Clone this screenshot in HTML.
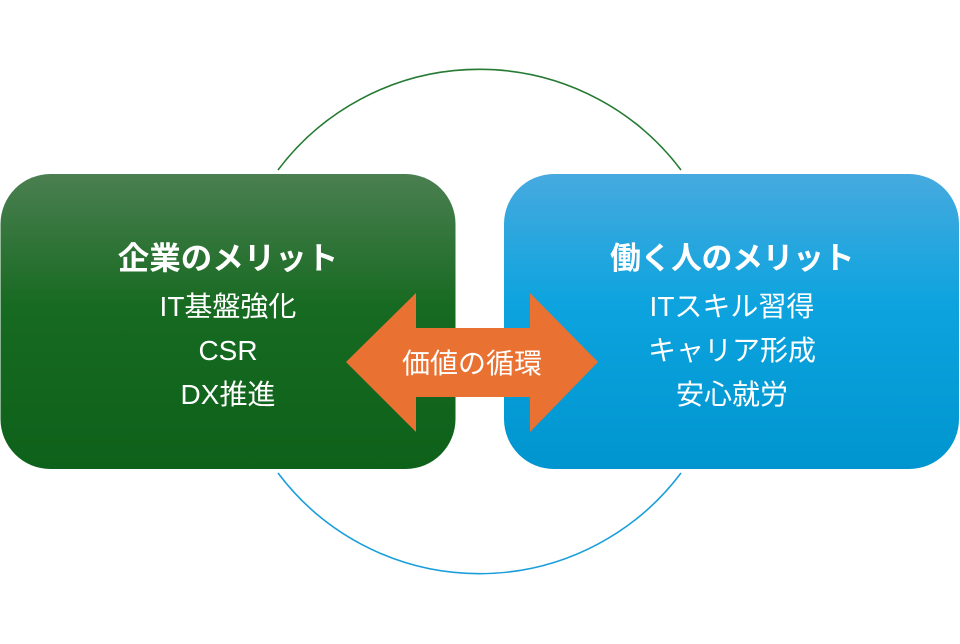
<!DOCTYPE html>
<html>
<head>
<meta charset="utf-8">
<style>
  html, body { margin: 0; padding: 0; background: #ffffff; }
  body { width: 960px; height: 644px; overflow: hidden; }
  svg { display: block; }
  text { font-family: "Liberation Sans", "Noto Sans CJK JP", sans-serif; fill: #ffffff; }
</style>
</head>
<body>
<svg width="960" height="644" viewBox="0 0 960 644" xmlns="http://www.w3.org/2000/svg">
  <defs>
    <linearGradient id="g" x1="0" y1="0" x2="0" y2="1">
      <stop offset="0" stop-color="#4b7f51"/>
      <stop offset="0.45" stop-color="#176a21"/>
      <stop offset="1" stop-color="#0e611a"/>
    </linearGradient>
    <linearGradient id="b" x1="0" y1="0" x2="0" y2="1">
      <stop offset="0" stop-color="#46aadf"/>
      <stop offset="0.45" stop-color="#0ca3de"/>
      <stop offset="1" stop-color="#0095cf"/>
    </linearGradient>
  </defs>

  <!-- circle arcs -->
  <path d="M278 170 A252 252 0 0 1 681 170" fill="none" stroke="#267a33" stroke-width="1.6"/>
  <path d="M278 473 A252 252 0 0 0 681 473" fill="none" stroke="#1a9fdb" stroke-width="1.6"/>

  <!-- boxes -->
  <rect x="0.5" y="174" width="455" height="295" rx="50" ry="50" fill="url(#g)"/>
  <rect x="504" y="174" width="455" height="295" rx="50" ry="50" fill="url(#b)"/>

  <!-- double arrow -->
  <polygon points="346,362 416,293 416,328 530,328 530,293 598,362 530,432 530,397 416,397 416,432" fill="#e97132"/>

  <!-- left texts -->
  <text x="228" y="269" font-size="31.5" font-weight="bold" text-anchor="middle">企業のメリット</text>
  <text x="228" y="316" font-size="28" text-anchor="middle">IT基盤強化</text>
  <text x="228" y="360" font-size="28" text-anchor="middle">CSR</text>
  <text x="228" y="404" font-size="28" text-anchor="middle">DX推進</text>

  <!-- right texts -->
  <text x="732" y="269" font-size="31" font-weight="bold" text-anchor="middle" letter-spacing="-0.5">働く人のメリット</text>
  <text x="732" y="316" font-size="28" text-anchor="middle">ITスキル習得</text>
  <text x="732" y="360" font-size="28" text-anchor="middle">キャリア形成</text>
  <text x="732" y="404" font-size="28" text-anchor="middle">安心就労</text>

  <!-- arrow label -->
  <text x="472" y="373" font-size="28" text-anchor="middle">価値の循環</text>
</svg>
</body>
</html>
